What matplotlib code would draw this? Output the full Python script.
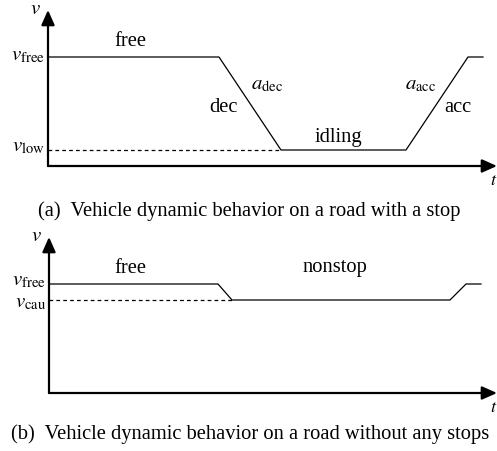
import matplotlib.pyplot as plt

plt.rcParams['font.family'] = ['Liberation Serif', 'DejaVu Serif']
plt.rcParams['mathtext.fontset'] = 'stix'

# panel (a): road with a stop
t_stop = [0, 17.1, 23.3, 35.8, 42.0, 43.5]
v_stop = [10.9, 10.9, 1.6, 1.6, 10.9, 10.9]
v_low = 1.6

# panel (b): road without stops
t_nonstop = [0, 16.9, 18.3, 40.1, 41.7, 43.2]
v_nonstop = [10.9, 10.9, 9.3, 9.3, 10.9, 10.9]
v_cau = 9.3
v_free = 10.9

W, H = 497, 451
fig = plt.figure(figsize=(W / 100, H / 100), dpi=100)

fs = 14.8
fm = 15


def make_axes(x0, y0, ytop):
    ax = fig.add_axes([x0 / W, 1 - y0 / H, (W - x0) / W, (y0 - ytop) / H])
    ax.set_xlim(0, (W - x0) / 10)
    ax.set_ylim(0, (y0 - ytop) / 10)
    ax.axis('off')
    arrow = dict(arrowstyle='-|>,head_length=0.45,head_width=0.2', color='black',
                 lw=1.6, mutation_scale=20, shrinkA=0, shrinkB=0)
    ax.annotate('', xy=(1.0, 0), xytext=(0, 0), xycoords='axes fraction',
                arrowprops=arrow, annotation_clip=False)
    ax.annotate('', xy=(0, 1.0), xytext=(0, 0), xycoords='axes fraction',
                arrowprops=arrow, annotation_clip=False)
    ax.text(-0.015, 1.0, '$v$', transform=ax.transAxes, ha='right', va='center', fontsize=fm)
    ax.text(1.0, -0.09, '$t$', transform=ax.transAxes, ha='right', va='center',
            fontsize=fm - 2, clip_on=False)
    return ax


ax1 = make_axes(48, 166, 10)
ax1.plot(t_stop, v_stop, color='black', lw=0.9)
ax1.plot([0, t_stop[2]], [v_low, v_low], color='black', lw=0.9, ls=(0, (3, 2.5)))
ax1.text(-0.3, v_free + 0.1, r'$v_{\rm free}$', ha='right', va='center', fontsize=fm)
ax1.text(-0.3, v_low + 0.3, r'$v_{\rm low}$', ha='right', va='center', fontsize=fm)
ax1.text(8.2, v_free + 0.6, 'free', ha='center', va='bottom', fontsize=fs)
ax1.text(17.5, 5.9, 'dec', ha='center', va='center', fontsize=fs)
ax1.text(21.9, 8.1, r'$a_{\rm dec}$', ha='center', va='center', fontsize=fm)
ax1.text(29.0, 1.9, 'idling', ha='center', va='bottom', fontsize=fs)
ax1.text(37.3, 8.1, r'$a_{\rm acc}$', ha='center', va='center', fontsize=fm)
ax1.text(41.0, 5.8, 'acc', ha='center', va='center', fontsize=fs)

ax2 = make_axes(49, 393, 237)
ax2.plot(t_nonstop, v_nonstop, color='black', lw=0.9)
ax2.plot([0, t_nonstop[2]], [v_cau, v_cau], color='black', lw=0.9, ls=(0, (3, 2.5)))
ax2.text(-0.3, v_free + 0.3, r'$v_{\rm free}$', ha='right', va='center', fontsize=fm)
ax2.text(-0.3, v_cau - 0.3, r'$v_{\rm cau}$', ha='right', va='center', fontsize=fm)
ax2.text(8.1, v_free + 0.6, 'free', ha='center', va='bottom', fontsize=fs)
ax2.text(28.6, v_free + 0.7, 'nonstop', ha='center', va='bottom', fontsize=fs)

fig.text(249 / W, 1 - 211 / H, '(a)  Vehicle dynamic behavior on a road with a stop',
         ha='center', va='center', fontsize=fs)
fig.text(250 / W, 1 - 434 / H, '(b)  Vehicle dynamic behavior on a road without any stops',
         ha='center', va='center', fontsize=fs)

fig.savefig('out.png', dpi=100)
